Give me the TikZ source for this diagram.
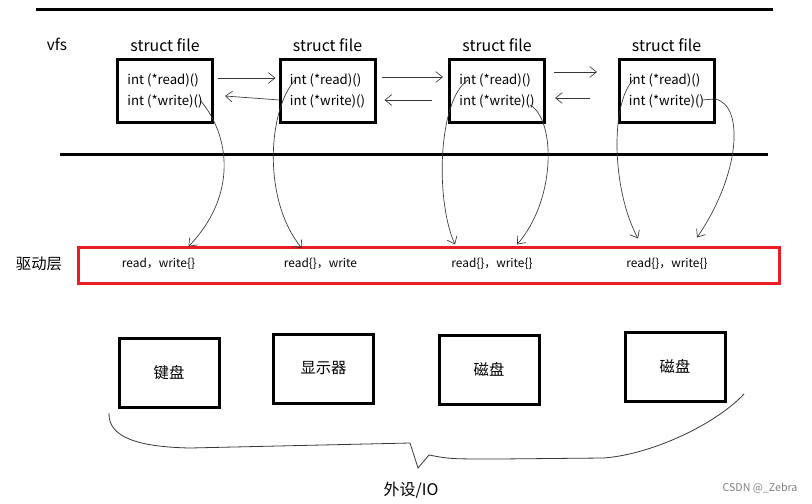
\documentclass[tikz,border=0pt]{standalone}
\usepackage{fontspec}
\setmainfont{Noto Sans CJK SC}
\usepackage{xcolor}
\usepackage{tikz}
\usetikzlibrary{arrows.meta}
\definecolor{drvred}{RGB}{236,28,36}
\definecolor{inkgray}{RGB}{55,55,55}
\tikzstyle{filebox} = [rectangle, draw=black, line width=2.25pt, minimum width=71.25pt, minimum height=47.25pt, align=left, font=\fontsize{9.9}{15.75}\selectfont]
\tikzstyle{filetitle} = [font=\fontsize{11.9}{14}\selectfont]
\tikzstyle{devbox} = [rectangle, draw=black, line width=2.25pt, minimum width=75pt, minimum height=51.75pt, font=\fontsize{11.5}{13}\selectfont]
\tikzstyle{drvbox} = [rectangle, draw=drvred, line width=2.25pt, minimum width=525.75pt, minimum height=27pt]
\tikzstyle{drvtext} = [font=\fontsize{8.9}{11}\selectfont]
\tikzstyle{arrow} = [draw=inkgray, line width=0.5pt, ->, >={Straight Barb[length=5pt,width=8pt]}]

\begin{document}
\begin{tikzpicture}[x=0.75pt, y=-0.75pt, node distance=34.5pt]
	\useasboundingbox (0,0) rectangle (812,503);

	\draw [line width=2.25pt] (36,10) -- (773,10);
	\draw [line width=2.25pt] (60,154) -- (768,154);

	\node (vfs) at (57,44) [font=\fontsize{11.5}{13}\selectfont] {vfs};

	\node (f1) [filebox] at (165,91) {int (*read)()\\int (*write)()};
	\node (f2) [filebox] at (327.5,91) {int (*read)()\\int (*write)()};
	\node (f3) [filebox] at (497,91) {int (*read)()\\int (*write)()};
	\node (f4) [filebox] at (666.5,91) {int (*read)()\\int (*write)()};
	\node (t1) [filetitle, above of=f1] {struct file};
	\node (t2) [filetitle, above of=f2] {struct file};
	\node (t3) [filetitle, above of=f3] {struct file};
	\node (t4) [filetitle, above of=f4] {struct file};

	\draw [arrow] ([shift={(4,-13)}]f1.east) -- ([shift={(-3,-13)}]f2.west);
	\draw [arrow] ([shift={(1,9)}]f2.west) -- ([shift={(11,5)}]f1.east);
	\draw [arrow] ([shift={(5,-14)}]f2.east) -- ([shift={(-5,-14)}]f3.west);
	\draw [arrow] ([shift={(-16,9)}]f3.west) -- ([shift={(8,9)}]f2.east);
	\draw [arrow] ([shift={(8,-19)}]f3.east) -- ([shift={(-20.5,-19)}]f4.west);
	\draw [arrow] ([shift={(-27.5,7)}]f4.west) -- ([shift={(9,7)}]f3.east);

	\node (lvl) at (39,264) [font=\fontsize{11.5}{13}\selectfont] {驱动层};
	\node (drv) [drvbox] at (428.5,265) {};
	\node (d1) [drvtext] at (158.5,264) {read，write\{\}};
	\node (d2) [drvtext] at (320.5,264) {read\{\}，write};
	\node (d3) [drvtext] at (492,264) {read\{\}，write\{\}};
	\node (d4) [drvtext] at (667,264) {read\{\}，write\{\}};

	\draw [arrow] ([shift={(35,9)}]f1.center) .. controls (230,135) and (238,195) .. ([shift={(-240,1)}]drv.north);
	\draw [arrow] ([shift={(-32.5,-11)}]f2.center) .. controls (268,110) and (262,200) .. ([shift={(-126.5,3)}]drv.north);
	\draw [arrow] ([shift={(-29,-11)}]f3.center) .. controls (438,100) and (435,200) .. ([shift={(26.5,-1)}]drv.north);
	\draw [arrow] ([shift={(33,14)}]f3.center) .. controls (556,120) and (556,200) .. ([shift={(88.5,-1)}]drv.north);
	\draw [arrow] ([shift={(-33.5,-11)}]f4.center) .. controls (610,105) and (612,190) .. ([shift={(209.5,-7)}]drv.north);
	\draw [arrow] ([shift={(35.5,9)}]f4.center) -- ([shift={(48.5,8)}]f4.center) .. controls (745,105) and (740,175) .. ([shift={(268.5,-8)}]drv.north);

	\node (kb) [devbox] at (169,372.5) {键盘};
	\node (disp) [devbox] at (323.5,368.5) {显示器};
	\node (disk1) [devbox] at (489,369.5) {磁盘};
	\node (disk2) [devbox] at (675,366.5) {磁盘};

	\draw [inkgray, line width=0.6pt] (109,413) .. controls (108,438) and (140,447) .. (190,448) -- (410,443) -- (418,468) -- (429,455) .. controls (450,459) .. (499,459) -- (603,458) .. controls (650,455) and (715,425) .. (744,394);
	\node (io) at (411,490) [font=\fontsize{12}{14}\selectfont] {外设/IO};

	\node (mark) at (760,488) [font=\fontsize{8}{10}\selectfont, text=gray] {CSDN @\_Zebra};

\end{tikzpicture}
\end{document}
